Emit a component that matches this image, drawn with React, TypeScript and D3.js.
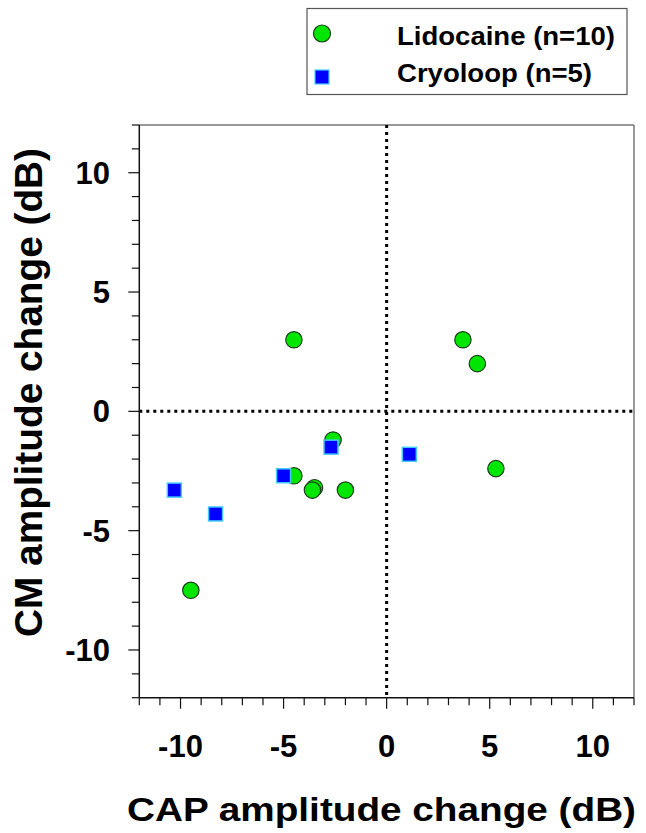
import React from "react";
import * as d3 from "d3";

const lidocaineX = [-4.5, 3.7, 4.4, -2.6, -4.5, -3.5, -3.6, -2.0, 5.3, -9.5];
const lidocaineY = [3.0, 3.0, 2.0, -1.2, -2.7, -3.2, -3.3, -3.3, -2.4, -7.5];
const cryoloopX = [-10.3, -8.3, -5.0, -2.7, 1.1];
const cryoloopY = [-3.3, -4.3, -2.7, -1.5, -1.8];
const majorTicks = [-10, -5, 0, 5, 10];
const legendLabels = ["Lidocaine (n=10)", "Cryoloop (n=5)"];
const xTitle = "CAP amplitude change (dB)";
const yTitle = "CM amplitude change (dB)";

const W = 646;
const H = 833;
const L = 139.3, R = 634, T = 125, B = 697.7;
const FONT = "'Liberation Sans', Arial, Helvetica, sans-serif";

export default function App() {
  const x = d3.scaleLinear().domain([-12, 12]).range([L, R]);
  const y = d3.scaleLinear().domain([-12, 12]).range([B, T]);
  const minor = d3.range(-12, 13, 1);
  const lido = lidocaineX.map((v, i) => ({ x: v, y: lidocaineY[i] }));
  const cryo = cryoloopX.map((v, i) => ({ x: v, y: cryoloopY[i] }));
  const sq = 14;

  return (
    <svg
      width={W}
      height={H}
      style={{ position: "absolute", left: 0, top: 0, background: "#fff" }}
      fontFamily={FONT}
    >
      <rect x={0} y={0} width={W} height={H} fill="#fff" />
      {/* frame top/right */}
      <line x1={L} x2={R} y1={T} y2={T} stroke="#333" strokeWidth={1.2} />
      <line x1={R} x2={R} y1={T} y2={B} stroke="#555" strokeWidth={1.2} />
      {/* dotted zero lines */}
      <line x1={x(0)} x2={x(0)} y1={T} y2={B} stroke="#000" strokeWidth={3} strokeDasharray="3 4" />
      <line x1={L} x2={R} y1={y(0)} y2={y(0)} stroke="#000" strokeWidth={3} strokeDasharray="3 4" />
      {/* axes */}
      <line x1={L} x2={L} y1={T} y2={B} stroke="#111" strokeWidth={1.5} />
      <line x1={L} x2={R} y1={B} y2={B} stroke="#111" strokeWidth={1.5} />
      {minor.map((t) => {
        const len = majorTicks.includes(t) ? 11 : 7.5;
        return (
          <g key={"t" + t}>
            <line x1={L - len} x2={L} y1={y(t)} y2={y(t)} stroke="#111" strokeWidth={1.2} />
            <line x1={x(t)} x2={x(t)} y1={B} y2={B + len} stroke="#111" strokeWidth={1.2} />
          </g>
        );
      })}
      {majorTicks.map((t) => (
        <g key={"l" + t} fontWeight="bold" fontSize={31} fill="#000">
          <text x={110} y={y(t) + 11} textAnchor="end">{t}</text>
          <text x={x(t)} y={757} textAnchor="middle">{t}</text>
        </g>
      ))}
      {/* titles */}
      <text
        x={381.5}
        y={821}
        textAnchor="middle"
        fontWeight="bold"
        fontSize={34}
        textLength={509}
        lengthAdjust="spacingAndGlyphs"
      >
        {xTitle}
      </text>
      <text
        transform={`translate(42,392.5) rotate(-90)`}
        textAnchor="middle"
        fontWeight="bold"
        fontSize={38}
        textLength={489}
        lengthAdjust="spacingAndGlyphs"
      >
        {yTitle}
      </text>
      {/* data */}
      {lido.map((d, i) => (
        <circle key={"c" + i} cx={x(d.x)} cy={y(d.y)} r={8.2} fill="#00e600" stroke="#1b3b1b" strokeWidth={1.2} />
      ))}
      {cryo.map((d, i) => (
        <rect
          key={"s" + i}
          x={x(d.x) - sq / 2}
          y={y(d.y) - sq / 2}
          width={sq}
          height={sq}
          fill="#0000ff"
          stroke="#44ccff"
          strokeWidth={1.5}
        />
      ))}
      {/* legend */}
      <rect x={307} y={8.5} width={320} height={86} fill="#fff" stroke="#555" strokeWidth={1.2} />
      <circle cx={322} cy={33.5} r={8.5} fill="#00e600" stroke="#1b3b1b" strokeWidth={1.2} />
      <rect x={322 - 7} y={77 - 7} width={14} height={14} fill="#0000ff" stroke="#44ccff" strokeWidth={1.2} />
      <text x={397} y={45} fontWeight="bold" fontSize={26} textLength={218} lengthAdjust="spacingAndGlyphs">
        {legendLabels[0]}
      </text>
      <text x={397} y={81.5} fontWeight="bold" fontSize={26} textLength={195} lengthAdjust="spacingAndGlyphs">
        {legendLabels[1]}
      </text>
    </svg>
  );
}
